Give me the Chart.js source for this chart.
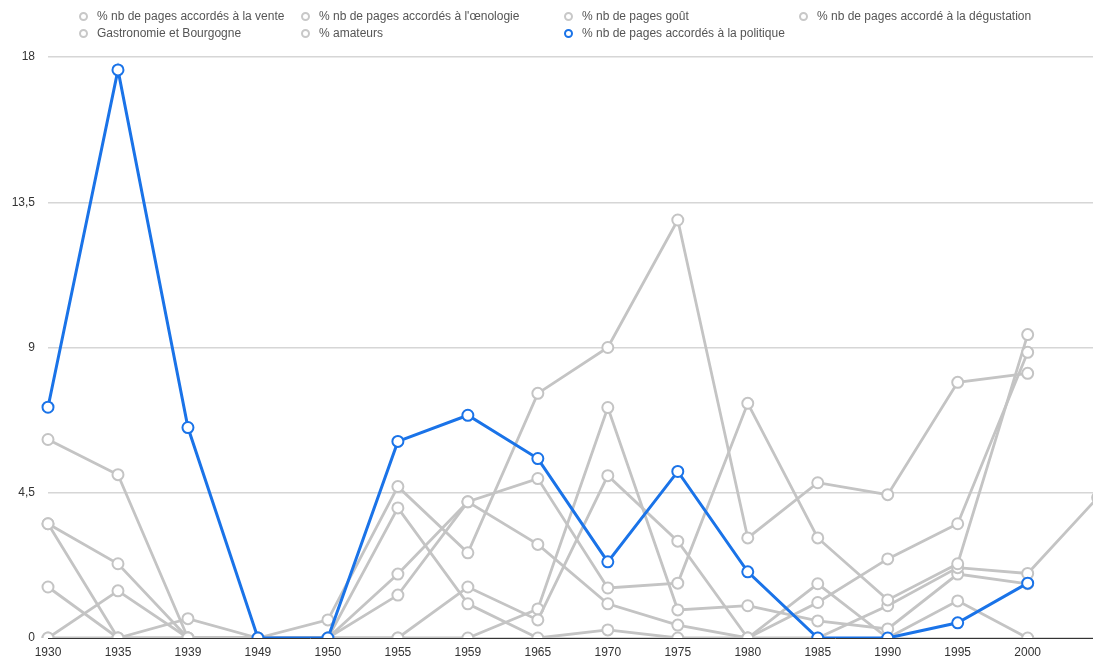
<!DOCTYPE html>
<html>
<head>
<meta charset="utf-8">
<script src="https://cdn.jsdelivr.net/npm/chart.js@4/dist/chart.umd.min.js"></script>
<style>
  body { margin: 0; overflow: hidden; background: #fff; }
  #wrap { position: relative; width: 1118px; height: 673px; }
  #legend { position: absolute; left: 0; top: 0; width: 1100px; height: 45px;
            font-family: 'Liberation Sans', Arial, sans-serif; font-size: 12px; color: #555; }
  .item { position: absolute; white-space: nowrap; line-height: 14px; }
  .dot { position: absolute; width: 5px; height: 5px; border-radius: 50%;
         border: 2px solid #c4c4c4; background: #fff; }
</style>
</head>
<body>
<div id="wrap">
  <canvas id="chart"></canvas>
  <div id="legend"></div>
</div>
<script>
// années (la dernière est coupée par le bord droit)
const years = ["1930", "1935", "1939", "1949", "1950", "1955", "1959", "1965",
               "1970", "1975", "1980", "1985", "1990", "1995", "2000", "2005"];

const vente       = [6.15, 5.06, 0, 0, 0.56, 4.69, 2.64, 7.58, 9.0, 12.95, 3.1, 4.81, 4.44, 7.92, 8.2, null];
const oenologie   = [3.54, 2.3, 0, 0, 0, 0, 1.58, 0.56, 5.03, 3.0, 0, 1.1, 2.45, 3.54, 8.85, null];
const gout        = [3.54, 0, 0.6, 0, 0, 1.98, 4.22, 4.94, 1.55, 1.7, 7.27, 3.1, 1.18, 2.3, 9.4, null];
const degustation = [1.58, 0, 0, 0, 0, 1.33, 4.22, 2.9, 1.06, 0.4, 0, 0, 1.0, 2.18, 2.0, 4.35];
const gastronomie = [0, 1.46, 0, 0, 0, 0, 0, 0.9, 7.14, 0.87, 1.0, 0.53, 0.28, 1.98, 1.68, null];
const amateurs    = [0, 0, 0, 0, 0, 4.03, 1.06, 0, 0.25, 0, 0, 1.68, 0, 1.15, 0, null];
const politique   = [7.15, 17.6, 6.52, 0, 0, 6.09, 6.9, 5.56, 2.36, 5.16, 2.05, 0, 0, 0.47, 1.7, null];

const yTicks = [0, 4.5, 9, 13.5, 18];

const GREY = "#c4c4c4";
const BLUE = "#1a73e8";

const series = [
  { label: "% nb de pages accordés à la vente",        data: vente,       color: GREY, col: 0, row: 0 },
  { label: "% nb de pages accordés à l'œnologie",      data: oenologie,   color: GREY, col: 1, row: 0 },
  { label: "% nb de pages goût",                       data: gout,        color: GREY, col: 2, row: 0 },
  { label: "% nb de pages accordé à la dégustation",   data: degustation, color: GREY, col: 3, row: 0 },
  { label: "Gastronomie et Bourgogne",                 data: gastronomie, color: GREY, col: 0, row: 1 },
  { label: "% amateurs",                               data: amateurs,    color: GREY, col: 1, row: 1 },
  { label: "% nb de pages accordés à la politique",    data: politique,   color: BLUE, col: 2, row: 1 },
];

// ── légende HTML alignée en colonnes ─────────────────────────
const colX = [83, 305, 568, 803];
const rowY = [16, 33];
const leg = document.getElementById("legend");
series.forEach((s) => {
  const dot = document.createElement("div");
  dot.className = "dot";
  dot.style.left = (colX[s.col] - 4.5) + "px";
  dot.style.top = (rowY[s.row] - 4.5) + "px";
  dot.style.borderColor = s.color === BLUE ? BLUE : "#c8c8c8";
  leg.appendChild(dot);
  const t = document.createElement("div");
  t.className = "item";
  t.textContent = s.label;
  t.style.left = (colX[s.col] + 14) + "px";
  t.style.top = (rowY[s.row] - 7) + "px";
  leg.appendChild(t);
});

Chart.defaults.font.family = "'Liberation Sans', Arial, sans-serif";
Chart.defaults.font.size = 12;
Chart.defaults.color = "#333";

new Chart(document.getElementById("chart"), {
  type: "line",
  data: {
    labels: years,
    datasets: series.map((s) => ({
      label: s.label,
      data: s.data,
      borderColor: s.color,
      borderWidth: s.color === BLUE ? 3 : 2.8,
      pointRadius: 5.5,
      pointBorderWidth: 2,
      pointBackgroundColor: "#fff",
      pointBorderColor: s.color,
      tension: 0,
      order: s.color === BLUE ? 0 : 1,
    })),
  },
  options: {
    responsive: true,
    maintainAspectRatio: false,
    animation: false,
    layout: { padding: { top: 57, left: 0, right: 2, bottom: 0 } },
    plugins: { legend: { display: false }, tooltip: { enabled: false } },
    scales: {
      x: {
        offset: false,
        grid: { display: false, drawTicks: false },
        border: { display: true, color: "#333", width: 1 },
        ticks: {
          padding: 7,
          maxRotation: 0,
          autoSkip: false,
          // la dernière année est hors du cadre dans l'original
          color: (ctx) => (ctx.index === years.length - 1 ? "rgba(0,0,0,0)" : "#333"),
        },
        afterFit: (s) => { s.height = 35; },
      },
      y: {
        min: 0,
        max: 18,
        afterBuildTicks: (s) => { s.ticks = yTicks.map((v) => ({ value: v })); },
        ticks: {
          padding: 13,
          callback: (v) => String(v).replace(".", ","),
        },
        grid: { color: "#d6d6d6", lineWidth: 1.5, drawTicks: false },
        border: { display: false },
        afterFit: (s) => { s.width = 48; },
      },
    },
  },
});
</script>
</body>
</html>
